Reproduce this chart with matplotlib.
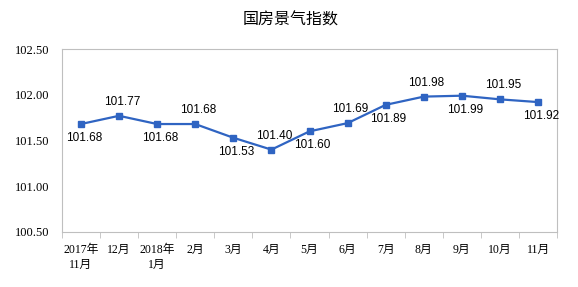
import numpy as np
import matplotlib.pyplot as plt

# 国房景气指数 数据
months = ['2017年\n11月', '12月', '2018年\n1月', '2月', '3月', '4月', '5月',
          '6月', '7月', '8月', '9月', '10月', '11月']
index_values = [101.68, 101.77, 101.68, 101.68, 101.53, 101.40, 101.60,
                101.69, 101.89, 101.98, 101.99, 101.95, 101.92]
y_ticks = [100.50, 101.00, 101.50, 102.00, 102.50]

fig = plt.figure(figsize=(5.78, 2.87), dpi=100)
ax = fig.add_axes([0.107, 0.192, 0.857, 0.637])

x = np.arange(len(months))
ax.plot(x, index_values, color='#2F64C2', lw=1.6, marker='s', ms=4.5)

# 数据标签上下交替
for i, v in enumerate(index_values):
    dy = -10 if i % 2 == 0 else 10
    ax.annotate(f'{v:.2f}', (x[i], v), xytext=(2, dy), textcoords='offset points',
                ha='center', va='center', fontsize=8.5, family='Liberation Sans')

ax.set_xlim(-0.5, len(months) - 0.5)
ax.set_ylim(100.5, 102.5)
ax.set_yticks(y_ticks)
ax.set_yticklabels([f'{t:.2f}' for t in y_ticks], family='Liberation Serif', fontsize=9)
ax.set_xticks(x)
ax.set_xticklabels(months, family=['Liberation Serif', 'Noto Sans CJK SC'], fontsize=8.5,
                   linespacing=1.3)
ax.set_xticks(np.arange(-0.5, len(months)), minor=True)
ax.tick_params(axis='x', which='major', length=0, pad=9)
ax.tick_params(axis='x', which='minor', length=4, color='#BFBFBF')
ax.tick_params(axis='y', length=0, pad=9)
for lab in ax.get_xticklabels():
    lab.set_verticalalignment('top')

for s in ax.spines.values():
    s.set_color('#BFBFBF')
    s.set_linewidth(0.8)

fig.text(0.502, 0.93, '国房景气指数', ha='center', va='center', fontsize=11.5,
         family='Noto Sans CJK SC')

fig.savefig('out.png', dpi=100)
